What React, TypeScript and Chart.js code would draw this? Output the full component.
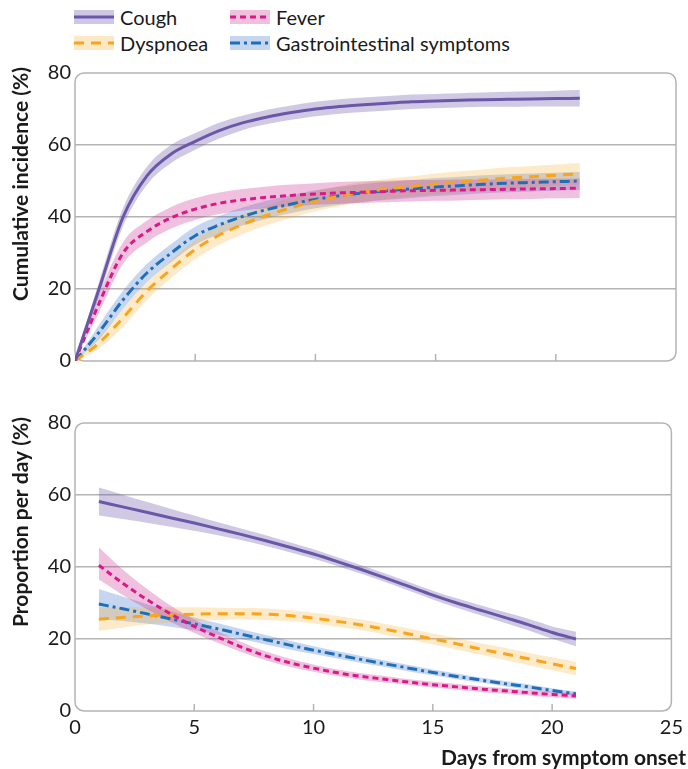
import React, { useEffect, useRef } from "react";
import { Chart, registerables } from "chart.js";
Chart.register(...registerables);

const FONT = "Lato, 'Open Sans', sans-serif";
const TEXT = "#1a1a1a";
const GRID = "#b4b4b4";

// ---------- Data ----------
const legendNames = ["Cough", "Fever", "Dyspnoea", "Gastrointestinal symptoms"];
const xTicks = [0, 5, 10, 15, 20, 25];
const yTicks = [0, 20, 40, 60, 80];

// Top panel: cumulative incidence (%), days 0..21
const cumDays = [0, 1, 2, 3, 4, 5, 6, 7, 8, 9, 10, 11, 12, 13, 14, 15, 16, 17, 18, 19, 20, 21];
const cumCough = [0, 20, 40, 51.5, 57.5, 61, 64, 66.2, 67.8, 69, 70, 70.7, 71.2, 71.6, 72, 72.2, 72.4, 72.6, 72.7, 72.8, 72.9, 73];
const cumCoughLo = [0, 18, 37.5, 49, 55, 58.7, 61.8, 64.2, 65.8, 67, 68, 68.7, 69.2, 69.6, 70, 70.2, 70.4, 70.6, 70.6, 70.7, 70.7, 70.7];
const cumCoughHi = [0, 22, 42.5, 54, 60, 63.3, 66.2, 68.2, 69.8, 71, 72, 72.7, 73.2, 73.6, 74, 74.2, 74.4, 74.6, 74.8, 74.9, 75.1, 75.3];
const cumFever = [0, 16, 30, 36, 39.8, 42.2, 43.8, 44.8, 45.5, 46, 46.4, 46.7, 46.9, 47.1, 47.3, 47.4, 47.5, 47.6, 47.7, 47.8, 47.9, 48];
const cumFeverLo = [0, 13.5, 27, 33, 36.8, 39.2, 40.8, 41.8, 42.5, 43, 43.4, 43.7, 43.9, 44.1, 44.3, 44.5, 44.6, 44.8, 44.9, 45, 45.2, 45.3];
const cumFeverHi = [0, 18.5, 33, 39, 42.8, 45.2, 46.8, 47.8, 48.5, 49, 49.4, 49.7, 49.9, 50.1, 50.3, 50.3, 50.4, 50.4, 50.5, 50.6, 50.6, 50.7];
const cumDysp = [0, 5, 12, 19.5, 25.5, 31, 35, 38, 40.5, 42.6, 44.4, 45.8, 46.9, 47.8, 48.5, 49.2, 49.8, 50.3, 50.8, 51.2, 51.6, 52];
const cumDyspLo = [0, 3.5, 9.5, 17, 23, 28.3, 32.3, 35.3, 37.8, 39.8, 41.6, 43, 44.1, 45, 45.7, 46.3, 46.9, 47.4, 47.8, 48.2, 48.6, 49];
const cumDyspHi = [0, 6.5, 14.5, 22, 28, 33.7, 37.7, 40.7, 43.2, 45.4, 47.2, 48.6, 49.7, 50.6, 51.3, 52.1, 52.7, 53.2, 53.8, 54.2, 54.6, 55];
const cumGi = [0, 8, 17, 24.5, 30, 34.8, 37.8, 40.2, 42.1, 43.6, 44.9, 45.9, 46.7, 47.3, 47.8, 48.3, 48.7, 49.1, 49.4, 49.6, 49.8, 50];
const cumGiLo = [0, 6, 14.5, 22, 27.5, 32.3, 35.3, 37.7, 39.6, 41.1, 42.4, 43.4, 44.2, 44.8, 45.3, 45.8, 46.2, 46.6, 46.9, 47.1, 47.3, 47.5];
const cumGiHi = [0, 10, 19.5, 27, 32.5, 37.3, 40.3, 42.7, 44.6, 46.1, 47.4, 48.4, 49.2, 49.8, 50.3, 50.8, 51.2, 51.6, 51.9, 52.1, 52.3, 52.5];

// Bottom panel: proportion per day (%), days 1..21
const dayDays = [1, 2, 3, 4, 5, 6, 7, 8, 9, 10, 11, 12, 13, 14, 15, 16, 17, 18, 19, 20, 21];
const dayCough = [58.2, 56.7, 55.2, 53.7, 52.2, 50.6, 49, 47.3, 45.5, 43.6, 41.5, 39.3, 37, 34.6, 32.2, 30, 28, 26, 24, 21.8, 20];
const dayCoughLo = [54.3, 53.3, 52.3, 51.2, 50.1, 48.8, 47.4, 45.8, 44.1, 42.3, 40.3, 38.1, 35.8, 33.4, 31, 28.7, 26.6, 24.5, 22.4, 20.1, 18];
const dayCoughHi = [62.1, 60.1, 58.1, 56.2, 54.3, 52.4, 50.6, 48.8, 46.9, 44.9, 42.7, 40.5, 38.2, 35.8, 33.4, 31.3, 29.4, 27.5, 25.6, 23.5, 22];
const dayFever = [40.5, 35.5, 31, 27, 23.5, 20.5, 17.7, 15.3, 13.4, 11.9, 10.6, 9.6, 8.8, 8, 7.3, 6.7, 6.1, 5.6, 5.1, 4.6, 4.2];
const dayFeverLo = [36.5, 32.2, 28.3, 24.8, 21.7, 18.9, 16.3, 14.1, 12.3, 10.9, 9.7, 8.7, 7.9, 7.2, 6.5, 5.9, 5.3, 4.8, 4.3, 3.8, 3.4];
const dayFeverHi = [45.5, 39.3, 34, 29.3, 25.4, 22.1, 19.1, 16.5, 14.5, 12.9, 11.5, 10.5, 9.7, 8.8, 8.1, 7.5, 6.9, 6.4, 5.9, 5.4, 5];
const dayDysp = [25.5, 26, 26.4, 26.7, 26.9, 27, 27, 26.9, 26.5, 25.8, 24.9, 23.9, 22.7, 21.4, 20, 18.7, 17.2, 15.9, 14.5, 13.1, 11.8];
const dayDyspLo = [22.2, 23.2, 24, 24.6, 25, 25.3, 25.4, 25.3, 25, 24.3, 23.4, 22.4, 21.2, 19.9, 18.5, 17.1, 15.6, 14.2, 12.8, 11.3, 9.9];
const dayDyspHi = [28.8, 28.8, 28.8, 28.8, 28.8, 28.7, 28.6, 28.5, 28, 27.3, 26.4, 25.4, 24.2, 22.9, 21.5, 20.3, 18.8, 17.6, 16.2, 14.9, 13.7];
const dayGi = [29.7, 28.4, 27, 25.6, 24.2, 22.8, 21.3, 19.8, 18.3, 16.9, 15.6, 14.3, 13.1, 11.9, 10.7, 9.6, 8.6, 7.6, 6.7, 5.7, 4.8];
const dayGiLo = [25.5, 25, 24.3, 23.4, 22.4, 21.2, 19.9, 18.5, 17.1, 15.8, 14.6, 13.3, 12.2, 11, 9.9, 8.8, 7.9, 6.9, 6, 5.1, 4.2];
const dayGiHi = [33.9, 31.8, 29.7, 27.8, 26, 24.4, 22.7, 21.1, 19.5, 18, 16.6, 15.3, 14, 12.8, 11.5, 10.4, 9.3, 8.3, 7.4, 6.3, 5.4];

// ---------- Styles ----------
type Style = { line: string; band: string; bandSolid: string; dash: number[] };
const STYLES: Style[] = [
  { line: "#6a57a8", band: "rgba(106,87,168,0.32)", bandSolid: "#cfc8e4", dash: [] },
  { line: "#d9198a", band: "rgba(205,50,145,0.30)", bandSolid: "#efc1dd", dash: [6, 4] },
  { line: "#f8a51c", band: "rgba(248,168,28,0.24)", bandSolid: "#fde8c6", dash: [10, 7] },
  { line: "#1f6fb8", band: "rgba(70,120,205,0.30)", bandSolid: "#c6d6f0", dash: [10, 4, 3, 4] },
];

function pts(xs: number[], ys: number[]) {
  return xs.map((x, i) => ({ x, y: ys[i] }));
}

function buildDatasets(xs: number[], series: { v: number[]; lo: number[]; hi: number[] }[]) {
  const bands: any[] = [];
  const lines: any[] = [];
  series.forEach((s, i) => {
    const st = STYLES[i];
    bands.push({
      data: pts(xs, s.lo), borderWidth: 0, pointRadius: 0, fill: false,
      cubicInterpolationMode: "monotone",
    });
    bands.push({
      data: pts(xs, s.hi), borderWidth: 0, pointRadius: 0, fill: "-1",
      backgroundColor: st.band, cubicInterpolationMode: "monotone",
    });
    lines.push({
      label: legendNames[i], data: pts(xs, s.v), borderColor: st.line, borderWidth: 3,
      borderDash: st.dash, pointRadius: 0, fill: false, cubicInterpolationMode: "monotone",
      borderCapStyle: "butt",
    });
  });
  return [...bands, ...lines];
}

function roundRect(ctx: CanvasRenderingContext2D, x: number, y: number, w: number, h: number, r: number) {
  ctx.beginPath();
  ctx.moveTo(x + r, y);
  ctx.lineTo(x + w - r, y);
  ctx.arcTo(x + w, y, x + w, y + r, r);
  ctx.lineTo(x + w, y + h - r);
  ctx.arcTo(x + w, y + h, x + w - r, y + h, r);
  ctx.lineTo(x + r, y + h);
  ctx.arcTo(x, y + h, x, y + h - r, r);
  ctx.lineTo(x, y + r);
  ctx.arcTo(x, y, x + r, y, r);
  ctx.closePath();
}

function framePlugin(yTitle: string, xTitle: string | null, titleTop: number) {
  return {
    id: "frame",
    beforeDatasetsDraw(chart: any) {
      const { ctx, chartArea: a, scales } = chart;
      ctx.save();
      ctx.strokeStyle = GRID;
      ctx.lineWidth = 1.5;
      roundRect(ctx, a.left, a.top, a.right - a.left, a.bottom - a.top, 9);
      ctx.stroke();
      // inward tick marks
      xTicks.forEach((t) => {
        if (t === 0 || t === 25) return;
        const px = scales.x.getPixelForValue(t);
        ctx.beginPath();
        ctx.moveTo(px, a.bottom);
        ctx.lineTo(px, a.bottom - 7);
        ctx.stroke();
      });
      ctx.restore();
    },
    afterDraw(chart: any) {
      const { ctx, chartArea: a } = chart;
      ctx.save();
      ctx.fillStyle = TEXT;
      ctx.font = `bold 21px ${FONT}`;
      ctx.translate(21, a.top - titleTop);
      ctx.rotate(-Math.PI / 2);
      ctx.textAlign = "right";
      ctx.textBaseline = "middle";
      ctx.fillText(yTitle, 0, 0);
      ctx.restore();
      if (xTitle) {
        ctx.save();
        ctx.fillStyle = TEXT;
        ctx.font = `bold 21px ${FONT}`;
        ctx.textAlign = "right";
        ctx.textBaseline = "middle";
        ctx.fillText(xTitle, 686, a.bottom + 47);
        ctx.restore();
      }
    },
  };
}

function makeConfig(datasets: any[], showXLabels: boolean, padTop: number, xHeight: number, yTitle: string, xTitle: string | null): any {
  return {
    type: "line",
    data: { datasets },
    options: {
      animation: false,
      responsive: false,
      maintainAspectRatio: false,
      layout: { padding: { top: padTop, right: 12, left: 0, bottom: 0 } },
      plugins: {
        legend: { display: false },
        tooltip: { enabled: false },
        filler: { drawTime: "beforeDatasetsDraw" },
      },
      scales: {
        x: {
          type: "linear", min: 0, max: 25,
          afterBuildTicks: (s: any) => { s.ticks = xTicks.map((v) => ({ value: v })); },
          grid: { display: false, drawTicks: false },
          border: { display: false },
          ticks: { display: showXLabels, padding: 5, color: TEXT, font: { family: FONT, size: 20 }, maxRotation: 0 },
          afterFit: (s: any) => { s.height = xHeight; },
        },
        y: {
          min: 0, max: 80,
          afterBuildTicks: (s: any) => { s.ticks = yTicks.map((v) => ({ value: v })); },
          grid: {
            drawTicks: false, lineWidth: 1.5,
            color: (c: any) => (c.tick && (c.tick.value === 0 || c.tick.value === 80) ? "rgba(0,0,0,0)" : GRID),
          },
          border: { display: false },
          ticks: { padding: 4, color: TEXT, font: { family: FONT, size: 20 } },
          afterFit: (s: any) => { s.width = 75; },
        },
      },
    },
    plugins: [framePlugin(yTitle, xTitle, 6)],
  };
}

function Swatch({ st }: { st: Style }) {
  return (
    <svg width={40} height={14} style={{ display: "block" }}>
      <rect x={0} y={0} width={40} height={14} fill={st.bandSolid} />
      <line x1={0} y1={7} x2={40} y2={7} stroke={st.line} strokeWidth={3}
        strokeDasharray={st.dash.length ? st.dash.join(" ") : undefined} />
    </svg>
  );
}

export default function App() {
  const topRef = useRef<HTMLCanvasElement>(null);
  const botRef = useRef<HTMLCanvasElement>(null);

  useEffect(() => {
    const top = new Chart(topRef.current!, makeConfig(
      buildDatasets(cumDays, [
        { v: cumCough, lo: cumCoughLo, hi: cumCoughHi },
        { v: cumFever, lo: cumFeverLo, hi: cumFeverHi },
        { v: cumDysp, lo: cumDyspLo, hi: cumDyspHi },
        { v: cumGi, lo: cumGiLo, hi: cumGiHi },
      ]), false, 73, 19, "Cumulative incidence (%)", null));
    const bot = new Chart(botRef.current!, makeConfig(
      buildDatasets(dayDays, [
        { v: dayCough, lo: dayCoughLo, hi: dayCoughHi },
        { v: dayFever, lo: dayFeverLo, hi: dayFeverHi },
        { v: dayDysp, lo: dayDyspLo, hi: dayDyspHi },
        { v: dayGi, lo: dayGiLo, hi: dayGiHi },
      ]), true, 43, 58, "Proportion per day (%)", "Days from symptom onset"));
    return () => { top.destroy(); bot.destroy(); };
  }, []);

  const legendPos = [
    { left: 74, top: 10 }, { left: 230, top: 10 }, { left: 74, top: 36 }, { left: 230, top: 36 },
  ];

  return (
    <div style={{ position: "fixed", left: 0, top: 0, width: 688, height: 769, background: "#fff", fontFamily: FONT }}>
      {legendNames.map((n, i) => (
        <div key={n} style={{ position: "absolute", left: legendPos[i].left, top: legendPos[i].top, display: "flex", alignItems: "center", height: 14 }}>
          <Swatch st={STYLES[i]} />
          <span style={{ marginLeft: 6, fontSize: 20, color: TEXT, lineHeight: "14px", whiteSpace: "nowrap" }}>{n}</span>
        </div>
      ))}
      <canvas ref={topRef} width={688} height={380} style={{ position: "absolute", left: 0, top: 0 }} />
      <canvas ref={botRef} width={688} height={389} style={{ position: "absolute", left: 0, top: 380 }} />
    </div>
  );
}
